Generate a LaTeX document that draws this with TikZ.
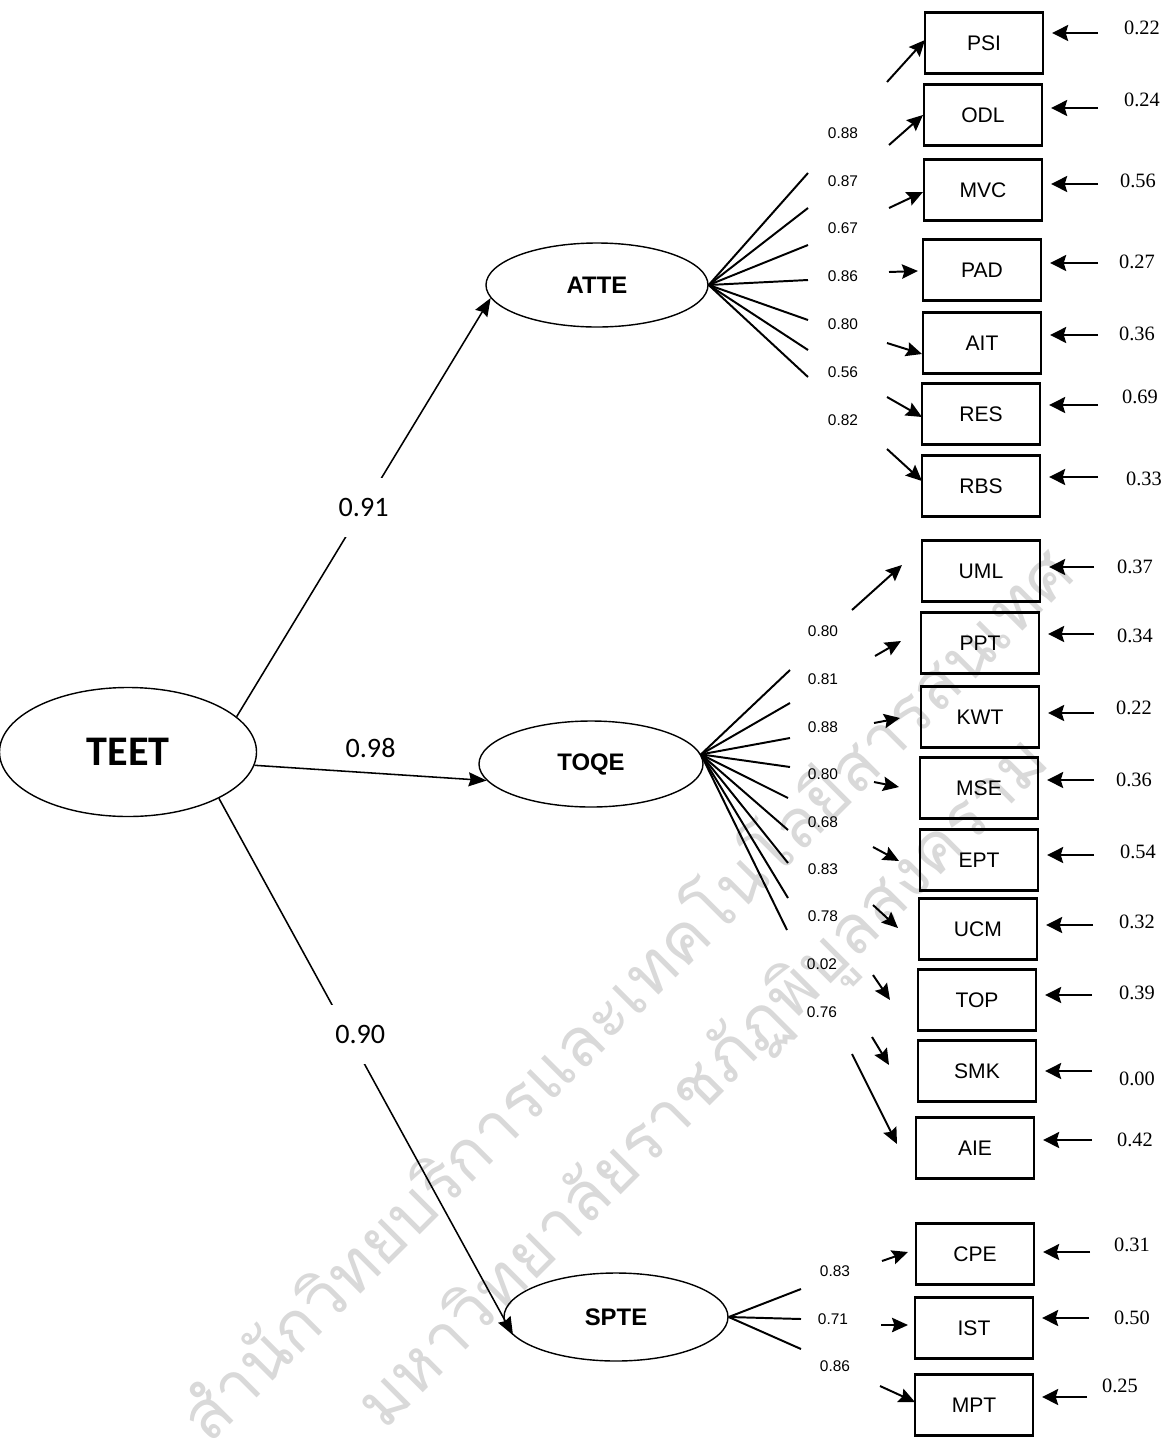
\documentclass[tikz,border=0pt]{standalone}
\usepackage{fontspec}
\setmainfont{Liberation Sans}
\newfontfamily\timesfont{Liberation Serif}
\newfontfamily\calibfont{Carlito}
\newfontfamily\thaifont[Script=Thai]{Loma}
\usetikzlibrary{shapes,arrows.meta}

\begin{document}
\begin{tikzpicture}[x=0.25mm,y=-0.25mm,
    latent/.style={draw,ellipse,line width=1pt,inner sep=0pt},
    ind/.style={draw,rectangle,line width=1.6pt,minimum width=29.5mm,minimum height=15.25mm,inner sep=0pt,font=\fontsize{15}{18}\selectfont},
    fan/.style={line width=1.4pt},
    load/.style={line width=1.4pt,-{Stealth[length=4mm,width=3.6mm,inset=0.6mm]}},
    err/.style={line width=1.5pt,-{Stealth[length=4mm,width=4mm,inset=0.6mm]},shorten >=2mm},
    struct/.style={line width=1.1pt,-{Stealth[length=4.5mm,width=3.5mm,inset=0.5mm]}},
    coef/.style={font=\calibfont\fontsize{20}{24}\selectfont,inner xsep=1mm},
    lodlbl/.style={font=\fontsize{11}{13}\selectfont,inner sep=0pt},
    errlbl/.style={font=\timesfont\fontsize{14.5}{17}\selectfont,inner sep=0pt},
    wm/.style={text=gray!30,font=\thaifont\fontsize{48}{52}\selectfont}]
    \useasboundingbox (0,0) rectangle (1176,1450);
    % watermark of the scan
    \node[wm,rotate=45] (wm1) at (622,990) {สำนักวิทยบริการและเทคโนโลยีสารสนเทศ};
    \node[wm,rotate=45] (wm2) at (705,1085) {มหาวิทยาลัยราชภัฏพิบูลสงคราม};
    % latent variables
    \node[latent,minimum width=64.25mm,minimum height=32.25mm,font=\calibfont\bfseries\fontsize{30}{34}\selectfont] (teet) at (128,752) {TEET};
    \node[latent,minimum width=55.5mm,minimum height=21mm,font=\bfseries\fontsize{17}{20}\selectfont] (atte) at (597,285) {ATTE};
    \node[latent,minimum width=56mm,minimum height=21.5mm,font=\bfseries\fontsize{17}{20}\selectfont] (toqe) at (591,764) {TOQE};
    \node[latent,minimum width=56mm,minimum height=22mm,font=\bfseries\fontsize{17}{20}\selectfont] (spte) at (616,1317) {SPTE};
    % indicators
    \foreach \n/\x/\y in {PSI/984/43, ODL/983/115, MVC/983/190, PAD/982/270, AIT/982/343, RES/981/414, RBS/981/486,
        UML/981/571, PPT/980/643, KWT/980/717, MSE/979/788, EPT/979/860, UCM/978/929, TOP/977/1000, SMK/977/1071, AIE/975/1148,
        CPE/975/1254, IST/974/1328, MPT/974/1405}
        \node[ind] (\n) at (\x,\y) {\n};
    % residuals
    \foreach \n/\ex/\ey/\rx/\ry/\val in {PSI/1098/33/1142/28/0.22, ODL/1098/108/1142/100/0.24, MVC/1098/184/1138/181/0.56,
        PAD/1098/263/1137/262/0.27, AIT/1098/335/1137/334/0.36, RES/1098/405/1140/397/0.69, RBS/1098/477/1144/479/0.33,
        UML/1094/567/1135/567/0.37, PPT/1094/634/1135/636/0.34, KWT/1094/713/1134/708/0.22, MSE/1094/780/1134/780/0.36,
        EPT/1094/855/1138/852/0.54, UCM/1093/925/1137/922/0.32, TOP/1092/995/1137/993/0.39, SMK/1092/1071/1137/1079/0.00,
        AIE/1092/1140/1135/1140/0.42, CPE/1090/1252/1132/1245/0.31, IST/1089/1318/1132/1318/0.50, MPT/1087/1397/1120/1386/0.25}{
        \coordinate (e\n) at (\ex,\ey);
        \draw[err] (e\n) -- (e\n -| \n.east);
        \node[errlbl] (r\n) at (\rx,\ry) {\val};
    }
    % loadings: fan line, value, arrow to the box
    \foreach \lat/\fx/\fy/\lx/\ly/\val/\sx/\sy/\tx/\ty [count=\i] in {
        atte.east/808/173/843/133/0.88/887/82/925/40, atte.east/808/208/843/181/0.87/889/145/923/115,
        atte.east/808/245/843/228/0.67/889/208/923/192, atte.east/808/280/843/276/0.86/889/272/918/271,
        atte.east/808/320/843/324/0.80/887/343/922/354, atte.east/808/350/843/372/0.56/887/397/922/417,
        atte.east/808/377/843/420/0.82/887/449/922/481,
        toqe.5/790/670/823/631/0.80/852/610/902/565, toqe.5/790/703/823/679/0.81/875/656/901/641,
        toqe.5/790/738/823/727/0.88/874/723/900/718, toqe.5/790/767/823/774/0.80/874/782/899/787,
        toqe.5/788/798/823/822/0.68/873/847/899/861, toqe.5/788/830/823/869/0.83/873/905/898/928,
        toqe.5/788/863/823/916/0.78/873/975/890/1000, toqe.5/788/898/822/964/0.02/872/1037/889/1065,
        toqe.5/787/930/822/1012/0.76/852/1054/897/1144,
        spte.east/801/1289/835/1271/0.83/882/1261/908/1252, spte.east/801/1319/833/1319/0.71/881/1325/908/1325,
        spte.east/801/1349/835/1366/0.86/880/1386/915/1402}{
        \coordinate (f\i) at (\fx,\fy);
        \coordinate (s\i) at (\sx,\sy);
        \coordinate (t\i) at (\tx,\ty);
        \draw[fan] (\lat) -- (f\i);
        \node[lodlbl] (l\i) at (\lx,\ly) {\val};
        \draw[load] (s\i) -- (t\i);
    }
    % second order paths
    \draw[struct] (teet.18) -- node[coef,pos=.5,fill=white,inner ysep=5mm] (c1) {0.91} (atte.187);
    \draw[struct] (teet.-6) -- node[coef,above=2.5mm] (c2) {0.98} (toqe.189);
    \draw[struct] (teet.-27) -- node[coef,pos=.44,xshift=3mm,fill=white,inner ysep=5mm] (c3) {0.90} (spte.190);
\end{tikzpicture}
\end{document}
